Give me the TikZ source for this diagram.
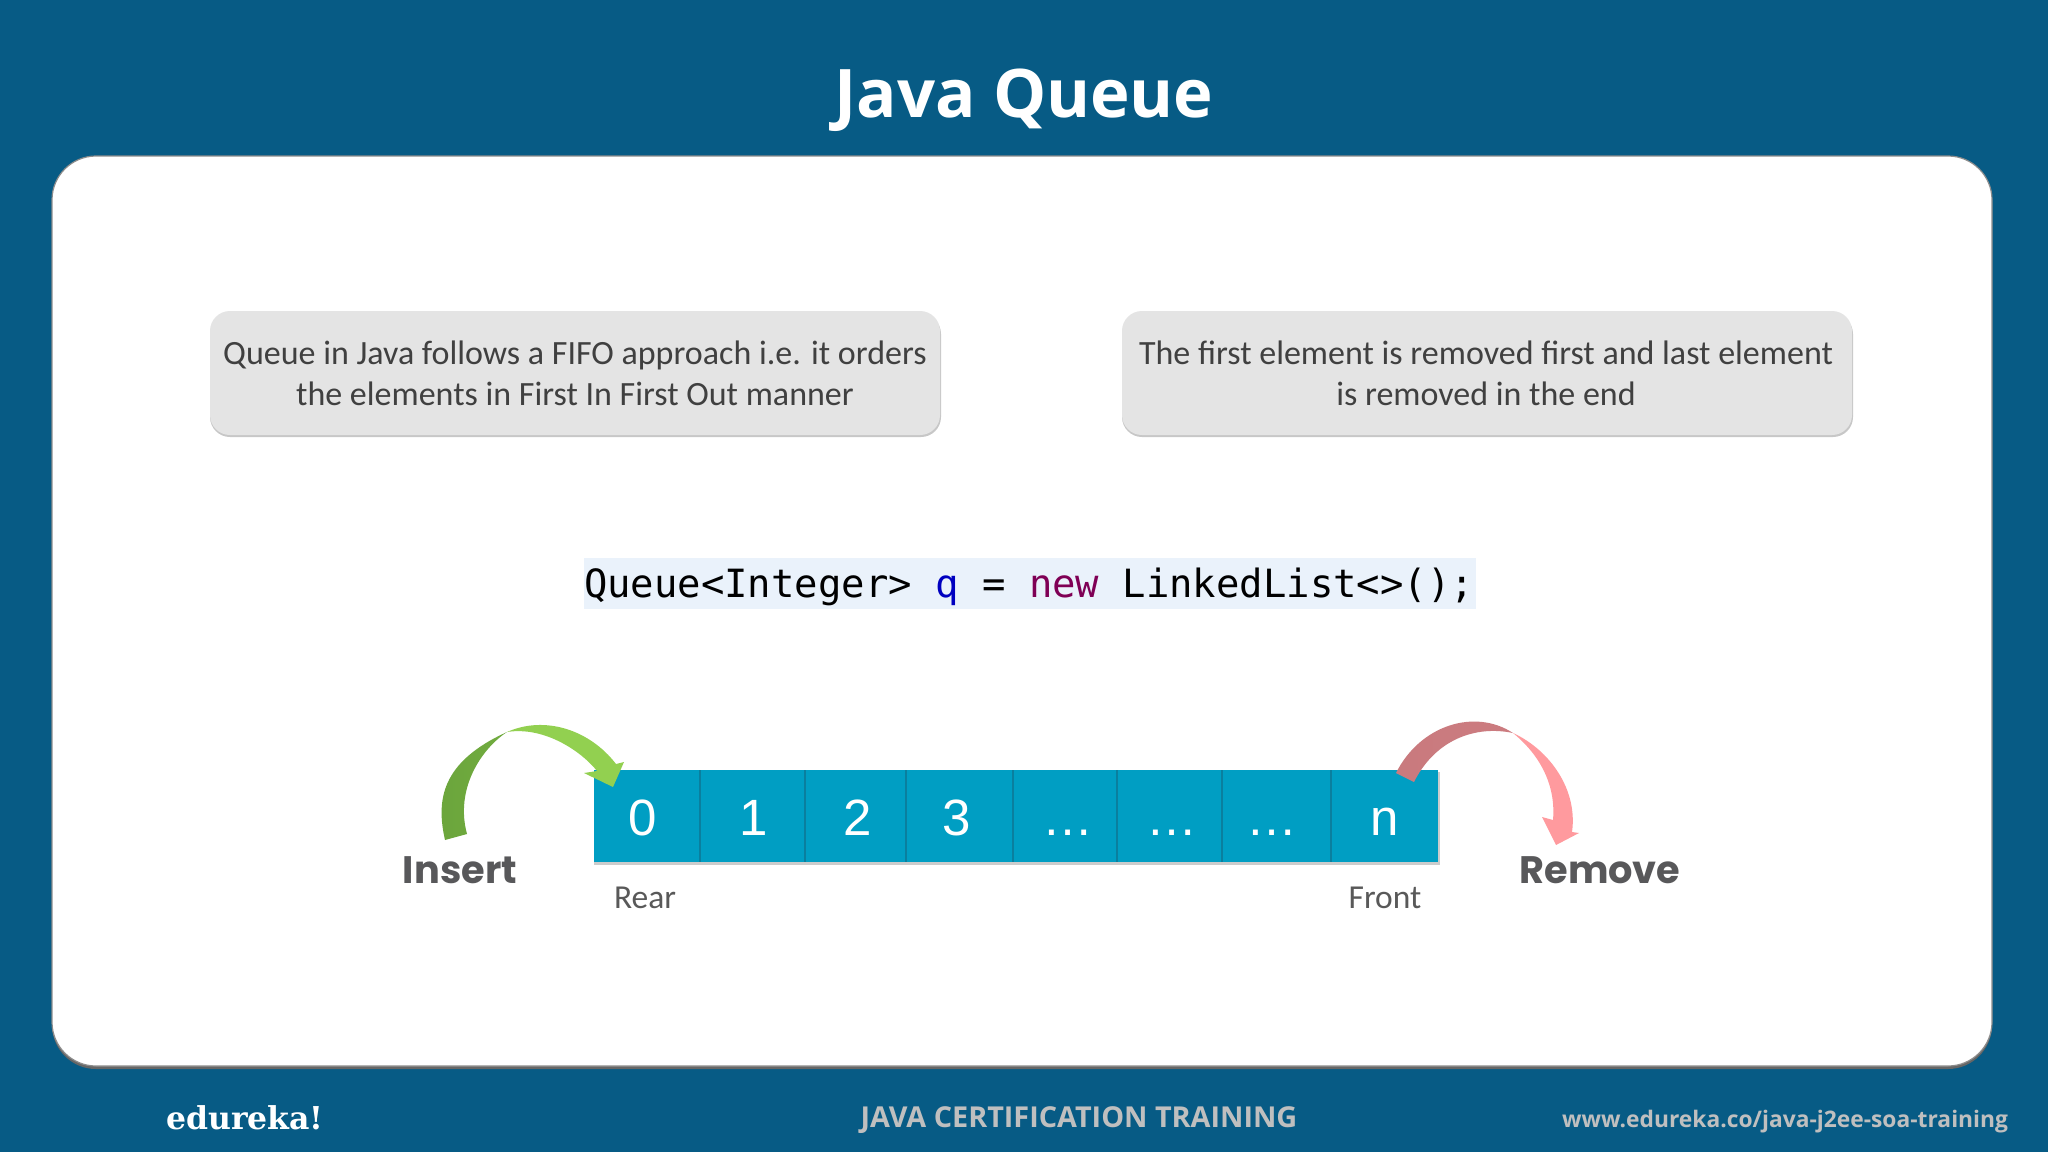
\documentclass[tikz,border=0pt]{standalone}
\usepackage{fontspec}
\setmainfont{Open Sans}
\newfontfamily\bodyfont{Carlito}
\newfontfamily\codefont{DejaVu Sans Mono}
\newfontfamily\arialfont{Liberation Sans}
\newfontfamily\headfont{Poppins}
\newfontfamily\logofont{DejaVu Serif}
\definecolor{bgblue}{HTML}{075B85}
\definecolor{cellblue}{HTML}{009EC3}
\definecolor{celledge}{HTML}{0A7F9E}
\definecolor{greybox}{HTML}{E4E4E4}
\definecolor{bodytext}{HTML}{404040}
\definecolor{softtext}{HTML}{595959}
\definecolor{headtext}{HTML}{58585A}
\definecolor{footgrey}{HTML}{BFBFBF}
\definecolor{codebg}{HTML}{EAF2FB}
\definecolor{codeq}{HTML}{0000C0}
\definecolor{codenew}{HTML}{7F0055}
\definecolor{greenlight}{HTML}{92D050}
\definecolor{greendark}{HTML}{6BA53C}
\definecolor{redlight}{HTML}{FF9A9E}
\definecolor{reddark}{HTML}{C97A7E}
\tikzset{
  panel/.style={fill=white,draw=black!45,line width=1.2pt,rounded corners=44pt},
  infobox/.style={fill=greybox,rounded corners=20pt},
  softshade/.style={fill=black,opacity=.22,rounded corners=20pt},
  infotext/.style={anchor=base,align=center,text=bodytext,inner sep=0pt,font=\bodyfont\fontsize{34}{41}\selectfont},
  celltext/.style={anchor=base,text=white,inner sep=0pt,font=\arialfont\fontsize{51}{60}\selectfont},
  smalltext/.style={anchor=base,text=softtext,inner sep=0pt,font=\bodyfont\fontsize{33.5}{38}\selectfont},
  headtextstyle/.style={anchor=base,text=headtext,inner sep=0pt,font=\headfont\bfseries\fontsize{38.3}{44}\selectfont},
  foottext/.style={anchor=base,text=footgrey,inner sep=0pt},
  celldiv/.style={draw=celledge,line width=2pt},
}
\begin{document}
\begin{tikzpicture}[x=1pt,y=-1pt]
\useasboundingbox (0,0) rectangle (2048,1152);
\fill[bgblue] (0,0) rectangle (2048,1152);
% title
\node[anchor=base,text=white,inner sep=0pt,font=\bfseries\fontsize{67}{76}\selectfont] (title) at (1024,117) {Java Queue};
% white panel
\fill[black!60,rounded corners=44pt] (52,159) rectangle (1992,1069);
\draw[panel] (52,156) rectangle (1992,1066);
% info boxes
\fill[softshade] (210,314) rectangle (941,437);
\fill[softshade] (1122,314) rectangle (1853,437);
\fill[infobox] (210,311) rectangle (940,435);
\fill[infobox] (1122,311) rectangle (1852,435);
\node[infotext] (infoa) at (575,405.5) {Queue in Java follows a FIFO approach i.e. it orders\\the elements in First In First Out manner};
\node[infotext] (infob) at (1486,405.5) {The first element is removed first and last element\\is removed in the end};
% code
\fill[codebg] (584,558) rectangle (1476,609);
\node[anchor=base,inner sep=0pt,text=black,font=\codefont\fontsize{38.9}{50}\selectfont] (code) at (1029,597) {Queue<Integer> \textcolor{codeq}{q} = \textcolor{codenew}{new} LinkedList<>();};
% queue bar
\fill[black,opacity=.2] (594,772) rectangle (1440,865);
\fill[cellblue] (594,770) rectangle (1438,862);
\foreach \xx in {700,805,906,1013,1117,1222,1331} {
  \draw[celldiv] (\xx,770) -- (\xx,862);
}
\node[celltext] (c0) at (643,835) {0};
\node[celltext] (c1) at (754,835) {1};
\node[celltext] (c2) at (858,835) {2};
\node[celltext] (c3) at (957,835) {3};
\node[celltext] (c4) at (1068,835) {…};
\node[celltext] (c5) at (1172,835) {…};
\node[celltext] (c6) at (1272,835) {…};
\node[celltext] (c7) at (1385,835) {n};
% green arrow
\shade[left color=greendark,right color=greendark!85!greenlight]
  (445,840) .. controls (436,800) and (441,762) .. (507,732)
  .. controls (480,750) and (455,790) .. (467,834) -- cycle;
\fill[greenlight]
  (507,732) .. controls (545,715) and (590,730) .. (616,764)
  -- (624,762) -- (613,787) -- (584,773) -- (597,771)
  .. controls (582,752) and (545,726) .. (507,732) -- cycle;
% red arrow
\shade[left color=reddark,right color=reddark!95!redlight]
  (1396,773) .. controls (1420,725) and (1475,708) .. (1513,733)
  .. controls (1475,725) and (1435,740) .. (1414,782) -- cycle;
\fill[redlight]
  (1513,733) .. controls (1550,750) and (1578,790) .. (1572,832)
  -- (1579,833) -- (1556,845) -- (1542,817) -- (1553,820)
  .. controls (1556,785) and (1540,755) .. (1513,733) -- cycle;
% labels
\node[headtextstyle] (insert) at (460,883) {Insert};
\node[headtextstyle] (remove) at (1600,883) {Remove};
\node[smalltext] (rear) at (645,908) {Rear};
\node[smalltext] (front) at (1385,908) {Front};
% footer
\node[anchor=base,text=white,inner sep=0pt,font=\logofont\bfseries\fontsize{31.5}{38}\selectfont] (logo) at (245,1129) {edureka!};
\node[foottext,font=\bfseries\fontsize{28.8}{34}\selectfont] (course) at (1079,1127) {JAVA CERTIFICATION TRAINING};
\node[foottext,font=\bfseries\fontsize{22.8}{30}\selectfont] (url) at (1785,1127) {www.edureka.co/java-j2ee-soa-training};
\end{tikzpicture}
\end{document}
